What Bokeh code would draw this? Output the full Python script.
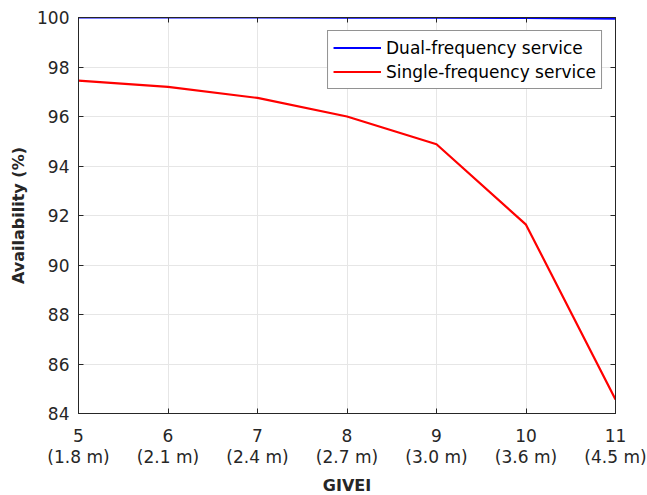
from bokeh.plotting import figure
from bokeh.models import (LinearAxis, Legend, LegendItem, FixedTicker, Range1d)
from bokeh.embed import file_html
from bokeh.resources import INLINE

givei = [5, 6, 7, 8, 9, 10, 11]
tick_labels = ["5\n(1.8 m)", "6\n(2.1 m)", "7\n(2.4 m)", "8\n(2.7 m)",
               "9\n(3.0 m)", "10\n(3.6 m)", "11\n(4.5 m)"]
dual = [100.0, 100.0, 100.0, 99.99, 99.99, 99.98, 99.95]
single = [97.45, 97.2, 96.75, 96.0, 94.88, 91.63, 84.57]
y_ticks = [84, 86, 88, 90, 92, 94, 96, 98, 100]

FONT = "DejaVu Sans"
AX = "#262626"

p = figure(width=647, height=495, output_backend="svg", toolbar_location=None,
           x_range=Range1d(5, 11), y_range=Range1d(84, 100),
           min_border_left=78, min_border_right=32, min_border_top=17,
           min_border_bottom=82)
p.frame_width = 537
p.frame_height = 396
p.outline_line_color = AX
p.outline_line_width = 1

p.xaxis.ticker = FixedTicker(ticks=givei)
p.xaxis.major_label_overrides = {g: t for g, t in zip(givei, tick_labels)}
p.yaxis.ticker = FixedTicker(ticks=y_ticks)

for ax in [p.xaxis[0], p.yaxis[0]]:
    ax.axis_line_color = AX
    ax.major_tick_line_color = AX
    ax.major_tick_in = 5
    ax.major_tick_out = 0
    ax.minor_tick_line_color = None
    ax.major_label_text_font = FONT
    ax.major_label_text_font_size = "17px"
    ax.major_label_text_color = AX
    ax.axis_label_text_font = FONT
    ax.axis_label_text_font_size = "16px"
    ax.axis_label_text_font_style = "bold"
    ax.axis_label_text_color = AX

p.xaxis.axis_label = "GIVEI"
p.yaxis.axis_label = "Availability (%)"
p.xaxis.major_label_standoff = 12
p.xaxis.major_label_text_line_height = 1.05
p.yaxis.major_label_standoff = 9
p.xaxis.axis_label_standoff = 6
p.yaxis.axis_label_standoff = 6

# top and right axes (ticks only)
top = LinearAxis(ticker=FixedTicker(ticks=givei),
                 major_label_overrides={g: "" for g in givei},
                 major_tick_in=5, major_tick_out=0, minor_tick_line_color=None,
                 axis_line_color=AX, major_tick_line_color=AX,
                 major_label_standoff=0)
right = LinearAxis(ticker=FixedTicker(ticks=y_ticks),
                   major_label_overrides={t: "" for t in y_ticks},
                   major_tick_in=5, major_tick_out=0, minor_tick_line_color=None,
                   axis_line_color=AX, major_tick_line_color=AX,
                   major_label_standoff=0)
p.add_layout(top, "above")
p.add_layout(right, "right")

p.xgrid.ticker = FixedTicker(ticks=givei)
p.ygrid.ticker = FixedTicker(ticks=y_ticks)
p.grid.grid_line_color = "#e6e6e6"
p.grid.grid_line_width = 1

r1 = p.line(givei, dual, line_color="#0000ff", line_width=2.2)
r2 = p.line(givei, single, line_color="#ff0000", line_width=2.2)

legend = Legend(items=[LegendItem(label="Dual-frequency service", renderers=[r1]),
                       LegendItem(label="Single-frequency service", renderers=[r2])],
                location="top_right")
legend.label_text_font = FONT
legend.label_text_font_size = "17px"
legend.label_text_color = "#000000"
legend.border_line_color = AX
legend.border_line_width = 1
legend.background_fill_alpha = 1
legend.glyph_width = 48
legend.label_standoff = 5
legend.spacing = 1
legend.padding = 5
legend.margin = 13
legend.label_height = 23
legend.glyph_height = 23
p.add_layout(legend, "center")

open("out.html", "w").write(file_html(p, INLINE))
